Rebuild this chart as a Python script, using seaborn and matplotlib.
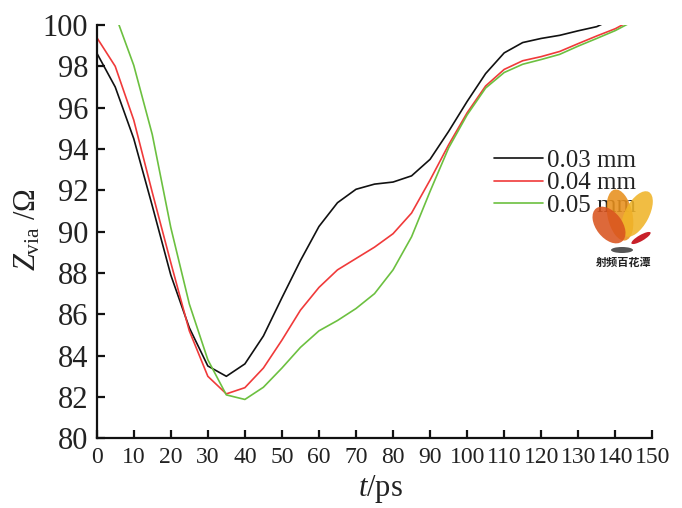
import matplotlib
matplotlib.use("Agg")
import matplotlib.pyplot as plt
import numpy as np
import pandas as pd
import seaborn as sns
from matplotlib.patches import Ellipse

# ---------------- data ----------------
t_black = [0, 5, 10, 15, 20, 25, 30, 35, 40, 45, 50, 55, 60, 65, 70, 75, 80,
           85, 90, 95, 100, 105, 110, 115, 120, 125, 130, 135, 140]
z_black = [98.65, 97.0, 94.5, 91.25, 87.9, 85.35, 83.5, 83.0, 83.6, 84.95, 86.8,
           88.6, 90.25, 91.4, 92.05, 92.3, 92.4, 92.7, 93.5, 94.85, 96.3, 97.65,
           98.65, 99.15, 99.35, 99.5, 99.72, 99.92, 100.35]

t_red = [0, 5, 10, 15, 20, 25, 30, 35, 40, 45, 50, 55, 60, 65, 70, 75, 80,
         85, 90, 95, 100, 105, 110, 115, 120, 125, 130, 135, 140, 145]
z_red = [99.4, 98.0, 95.4, 91.9, 88.5, 85.2, 83.0, 82.15, 82.45, 83.4, 84.75,
         86.2, 87.3, 88.15, 88.7, 89.25, 89.9, 90.9, 92.5, 94.2, 95.75, 97.05,
         97.85, 98.27, 98.47, 98.72, 99.1, 99.47, 99.82, 100.3]

t_green = [5, 10, 15, 20, 25, 30, 35, 40, 45, 50, 55, 60, 65, 70, 75, 80,
           85, 90, 95, 100, 105, 110, 115, 120, 125, 130, 135, 140, 145]
z_green = [100.5, 98.05, 94.7, 90.2, 86.5, 83.8, 82.1, 81.88, 82.47, 83.4, 84.4,
           85.2, 85.7, 86.28, 87.0, 88.15, 89.75, 91.95, 94.05, 95.65, 96.95,
           97.7, 98.1, 98.33, 98.58, 98.98, 99.35, 99.73, 100.2]

series_labels = ["0.03 mm", "0.04 mm", "0.05 mm"]
series_colors = ["#111111", "#f03a3a", "#6cc040"]

x_ticks = list(range(0, 151, 10))
y_ticks = list(range(80, 101, 2))

x_label = r"$t$/ps"
y_label = r"$Z_{\mathrm{via}}$ /Ω"
watermark = "射频百花潭"

# ---------------- table ----------------
df = pd.concat([
    pd.DataFrame({"t": t_black, "Z": z_black, "d": series_labels[0]}),
    pd.DataFrame({"t": t_red, "Z": z_red, "d": series_labels[1]}),
    pd.DataFrame({"t": t_green, "Z": z_green, "d": series_labels[2]}),
], ignore_index=True)

# ---------------- style ----------------
sns.set_theme(style="ticks")
plt.rcParams["font.family"] = ["Liberation Serif", "DejaVu Serif"]
plt.rcParams["mathtext.fontset"] = "custom"
plt.rcParams["mathtext.rm"] = "Liberation Serif"
plt.rcParams["mathtext.it"] = "Liberation Serif:italic"

fig, ax = plt.subplots(figsize=(6.82, 5.08), dpi=100)
fig.subplots_adjust(left=0.1418, right=0.9565, bottom=0.1372, top=0.9508)

sns.lineplot(data=df, x="t", y="Z", hue="d", hue_order=series_labels,
             palette=dict(zip(series_labels, series_colors)),
             linewidth=1.2, ax=ax, legend=True, sort=True)

ax.set_xlim(0, 150)
ax.set_ylim(80, 100)
ax.set_xticks(x_ticks)
ax.set_yticks(y_ticks)
ax.set_xticklabels([str(v) for v in x_ticks])
ax.set_yticklabels([str(v) for v in y_ticks])

for s in ["top", "right"]:
    ax.spines[s].set_visible(False)
for s in ["left", "bottom"]:
    ax.spines[s].set_linewidth(1.6)
    ax.spines[s].set_color("#111111")

ax.tick_params(axis="both", direction="in", length=6, width=1.6, colors="#111111")
ax.tick_params(axis="x", labelsize=17, pad=6)
ax.tick_params(axis="y", labelsize=22, pad=6)
for lab in ax.get_xticklabels() + ax.get_yticklabels():
    lab.set_color("#222222")

ax.set_xlabel(x_label, fontsize=22, color="#222222")
ax.set_ylabel(y_label, fontsize=22, color="#222222")
ax.xaxis.set_label_coords(0.51, -0.085)
ax.yaxis.set_label_coords(-0.097, 0.505)

handles, labels = ax.get_legend_handles_labels()
leg = ax.legend(handles, labels, loc="center left",
                bbox_to_anchor=(494 / 682, 1 - 183 / 508),
                bbox_transform=fig.transFigure, frameon=False,
                fontsize=18, handlelength=1.95, handletextpad=0.17,
                labelspacing=0.0, borderpad=0, borderaxespad=0)
for txt in leg.get_texts():
    txt.set_color("#222222")

# ---------------- watermark logo ----------------
def px(xp, yp):
    return (xp / 100.0, (508 - yp) / 100.0)

tr = fig.dpi_scale_trans
leaves = [
    (px(620, 215), 0.25, 0.52, 12, "#e8901c"),
    (px(637, 214), 0.24, 0.50, -28, "#f0b429"),
    (px(609, 225), 0.26, 0.42, 38, "#d9541e"),
]
for (c, w, h, ang, col) in leaves:
    fig.patches.append(Ellipse(c, w, h, angle=ang, transform=tr,
                               facecolor=col, edgecolor="none", alpha=0.88, zorder=5))
fig.patches.append(Ellipse(px(641, 238), 0.22, 0.06, angle=30, transform=tr,
                           facecolor="#c8202a", edgecolor="none", zorder=5))
fig.patches.append(Ellipse(px(622, 250), 0.22, 0.06, angle=0, transform=tr,
                           facecolor="#555555", edgecolor="none", zorder=5))
fig.text(623.5 / 682, 1 - 262.5 / 508, watermark, ha="center", va="center",
         fontsize=8, fontweight="bold", color="#222222",
         family=["Noto Sans CJK SC", "DejaVu Sans"], zorder=6)

fig.savefig("out.png", dpi=100)
